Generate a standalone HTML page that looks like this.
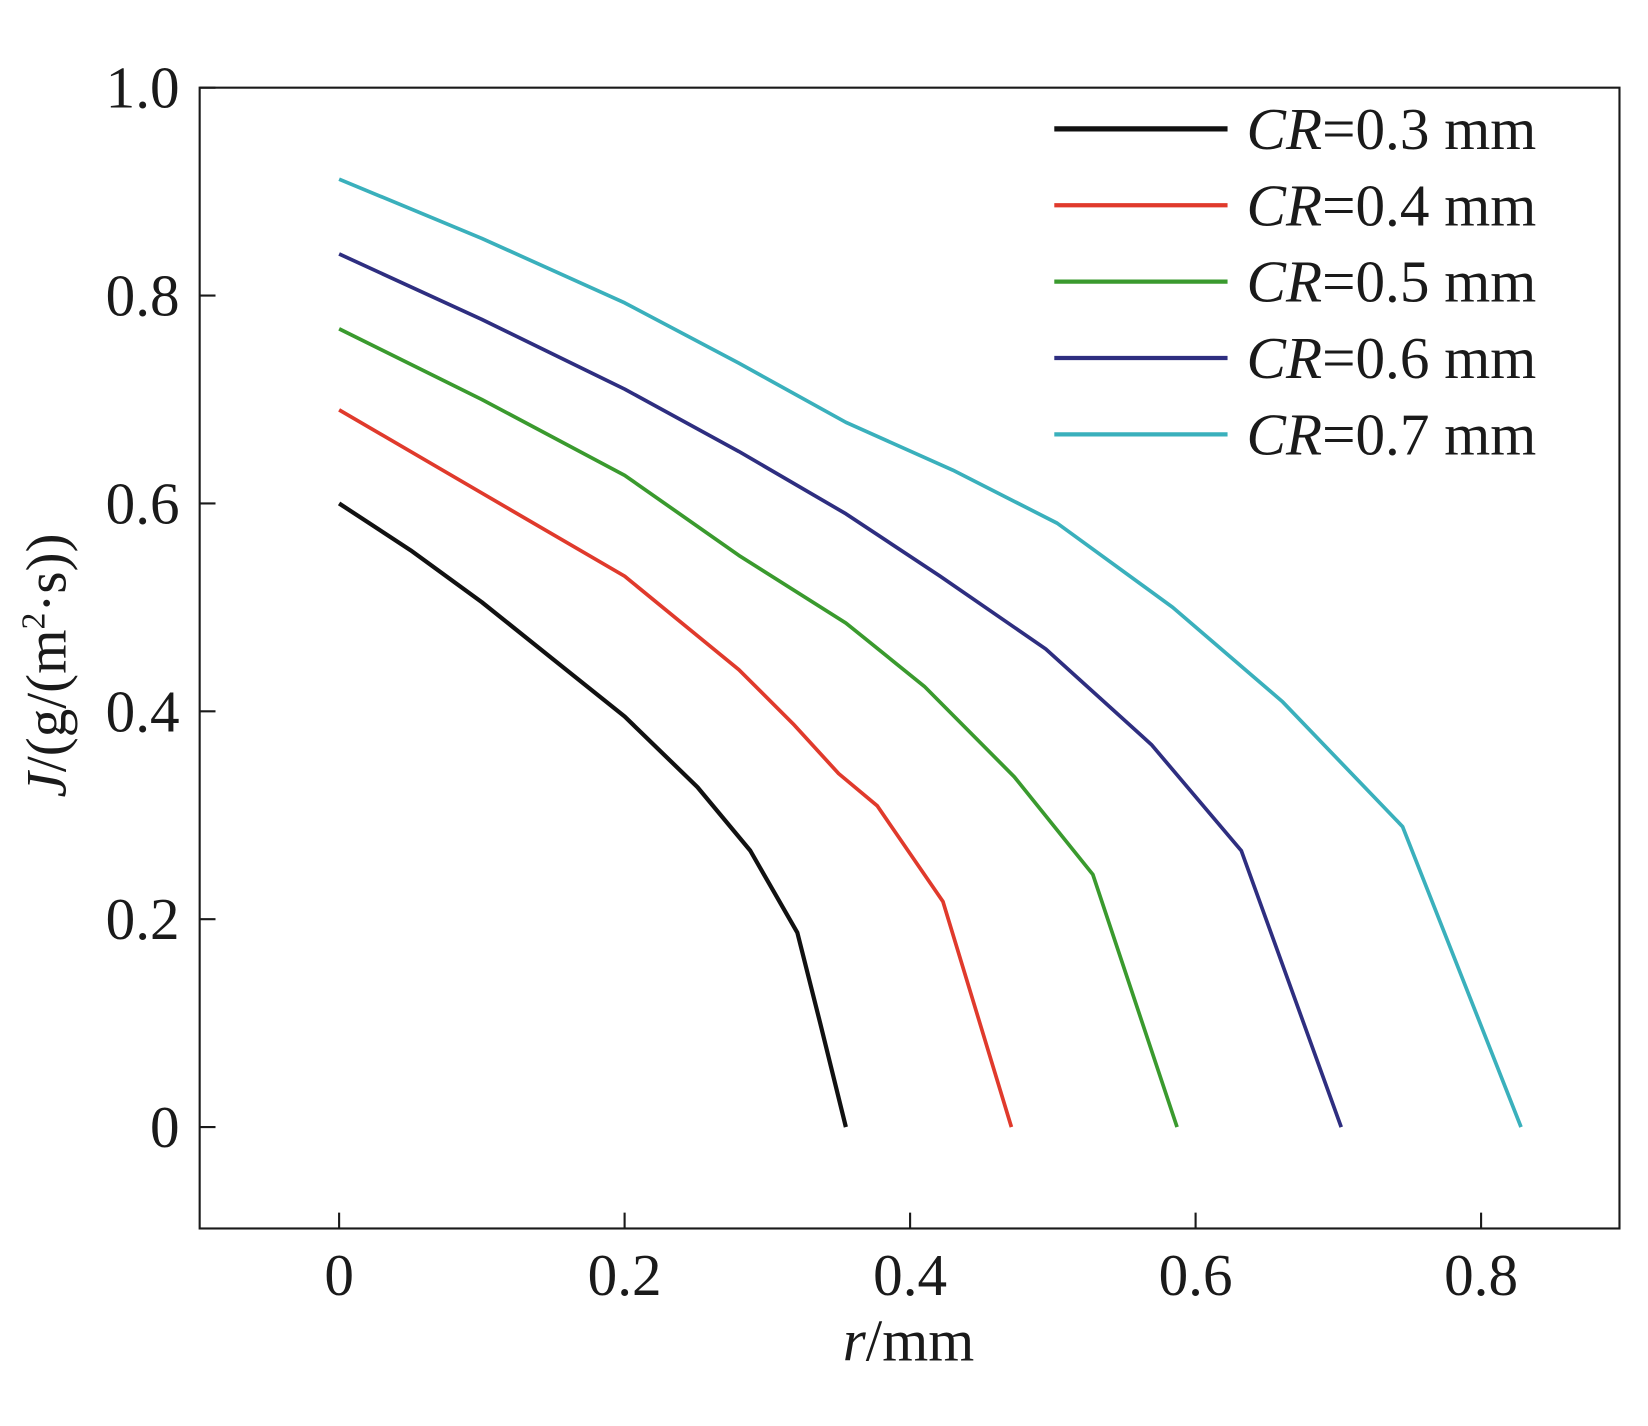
<!DOCTYPE html>
<html><head><meta charset="utf-8"><style>
html,body{margin:0;padding:0;background:#fff;}
svg{display:block;}
text{font-family:"Liberation Serif",serif;fill:#1a1a1a;}
</style></head><body>
<svg id="chart" width="1648" height="1426" viewBox="0 0 1560 1350" preserveAspectRatio="none" xmlns="http://www.w3.org/2000/svg">
<rect x="189" y="83" width="1344" height="1080" fill="none" stroke="#1a1a1a" stroke-width="2"/>
<g id="axes"></g>
<g id="series"></g>
<g id="legend"></g>
<text x="860" y="1288" font-size="56" text-anchor="middle"><tspan font-style="italic">r</tspan>/mm</text>
<text transform="translate(62,630) rotate(-90)" font-size="54" text-anchor="middle"><tspan font-style="italic">J</tspan>/(g/(m<tspan font-size="32" dy="-20">2</tspan><tspan dy="20">·s))</tspan></text>
</svg>
<script>
const xTicks=[0,0.2,0.4,0.6,0.8];
const xTickLabels=["0","0.2","0.4","0.6","0.8"];
const yTicks=[0,0.2,0.4,0.6,0.8,1.0];
const yTickLabels=["0","0.2","0.4","0.6","0.8","1.0"];
const seriesNames=["CR=0.3 mm","CR=0.4 mm","CR=0.5 mm","CR=0.6 mm","CR=0.7 mm"];
const seriesValues=["0.3","0.4","0.5","0.6","0.7"];
const seriesColors=["#111111","#e03a2c","#3a9a2e","#2e2e80","#3ab0bc"];
const rCR03=[0,0.05,0.1,0.15,0.2,0.251,0.288,0.321,0.337,0.355];
const jCR03=[0.6,0.555,0.505,0.45,0.395,0.327,0.266,0.187,0.1,0];
const rCR04=[0,0.1,0.2,0.28,0.318,0.35,0.377,0.423,0.471];
const jCR04=[0.69,0.61,0.53,0.44,0.388,0.34,0.309,0.217,0];
const rCR05=[0,0.1,0.2,0.28,0.355,0.41,0.473,0.528,0.587];
const jCR05=[0.768,0.7,0.627,0.55,0.485,0.424,0.337,0.243,0];
const rCR06=[0,0.1,0.2,0.28,0.355,0.421,0.495,0.569,0.632,0.702];
const jCR06=[0.84,0.777,0.71,0.65,0.59,0.53,0.46,0.368,0.266,0];
const rCR07=[0,0.1,0.2,0.28,0.355,0.43,0.503,0.584,0.661,0.745,0.828];
const jCR07=[0.912,0.855,0.793,0.735,0.678,0.632,0.581,0.5,0.409,0.289,0];
const allR=[rCR03,rCR04,rCR05,rCR06,rCR07];
const allJ=[jCR03,jCR04,jCR05,jCR06,jCR07];

const NS="http://www.w3.org/2000/svg";
const X=v=>321+v*1351.25;
const Y=v=>1067-v*984;
function mk(tag,attrs,parent){const e=document.createElementNS(NS,tag);for(const k in attrs)e.setAttribute(k,attrs[k]);parent.appendChild(e);return e;}
const axes=document.getElementById('axes');
xTicks.forEach((t,i)=>{
  const l=mk('line',{x1:X(t),x2:X(t),y1:1163,y2:1148,stroke:'#1a1a1a','stroke-width':2},axes);
  
  
  const tx=mk('text',{x:X(t),y:1226,'font-size':56,'text-anchor':'middle'},axes);
  tx.textContent=xTickLabels[i];
  
  
});
yTicks.forEach((t,i)=>{
  const l=mk('line',{x1:189,x2:204,y1:Y(t),y2:Y(t),stroke:'#1a1a1a','stroke-width':2},axes);
  
  
  const tx=mk('text',{x:170,y:Y(t)+19,'font-size':56,'text-anchor':'end'},axes);
  tx.textContent=yTickLabels[i];
  
  
});
const sg=document.getElementById('series');
const lg=document.getElementById('legend');
allR.forEach((rs,i)=>{
  const pts=rs.map((r,k)=>X(r).toFixed(1)+','+Y(allJ[i][k]).toFixed(1)).join(' ');
  const p=mk('polyline',{points:pts,fill:'none',stroke:seriesColors[i],'stroke-width':i===0?4:3.5,'stroke-linejoin':'round'},sg);
  
  
  const ly=122+i*72.3;
  const ll=mk('line',{x1:998,x2:1162,y1:ly,y2:ly,stroke:seriesColors[i],'stroke-width':i===0?5:4},lg);
  
  
  const lt=mk('text',{x:1180,y:ly+19,'font-size':56},lg);
  lt.innerHTML='<tspan font-style="italic">CR</tspan>=0.'+seriesValues[i].slice(2)+' mm';
  
  
});
</script>
</body></html>
